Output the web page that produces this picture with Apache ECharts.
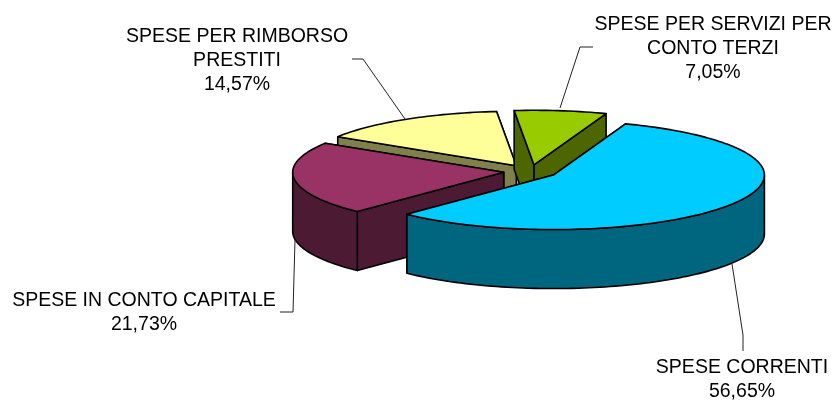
<!DOCTYPE html>
<html><head><meta charset="utf-8">
<style>html,body{margin:0;padding:0;background:#fff}#c{width:836px;height:400px}</style>
<script src="https://cdn.jsdelivr.net/npm/echarts@6/dist/echarts.min.js"></script>
</head><body><div id="c"></div>
<script>
const names = ['SPESE CORRENTI', 'SPESE IN CONTO CAPITALE', 'SPESE PER RIMBORSO\nPRESTITI', 'SPESE PER SERVIZI PER\nCONTO TERZI'];
const values = [56.65, 21.73, 14.57, 7.05];
const topColors = ['#00CCFF', '#993366', '#FFFF99', '#99CC00'];
const sideColors = ['#006680', '#4D1A33', '#80804D', '#4D6600'];
const drawOrder = [3, 2, 0, 1];
const labelPos = [[742, 380], [144, 313], [237, 61], [713, 49]];
const leaders = [
  [[743, 351], [743, 335], [732, 264]],
  [[280, 312], [293, 312], [295, 240]],
  [[352, 59], [363, 59], [405, 119]],
  [[593, 47], [580, 47], [560, 108]]
];
const CX = 530.5, CY = 171.5, RX = 211, RY = 54.5, DEPTH = 59, EXPLODE = 27, START = 20;
const total = values.reduce((a, b) => a + b, 0);
const rad = d => d * Math.PI / 180;
const dir = (deg, r) => [r * Math.sin(rad(deg)), -r * 0.25 * Math.cos(rad(deg))];
function span(i) {
  let s = START;
  for (let k = 0; k < i; k++) s += values[k] / total * 360;
  return [s, s + values[i] / total * 360];
}
function arc(apex, a, b, dy) {
  const pts = [], n = Math.max(2, Math.ceil((b - a) / 1.5));
  for (let k = 0; k <= n; k++) {
    const t = rad(a + (b - a) * k / n);
    pts.push([apex[0] + RX * Math.sin(t), apex[1] - RY * Math.cos(t) + dy]);
  }
  return pts;
}
function face(points, fill, z2) {
  return { type: 'polygon', z2, silent: true,
    shape: { points },
    style: { fill, stroke: '#000', lineWidth: 1.6, lineJoin: 'round' } };
}
function renderItem(params, api) {
  const i = params.dataIndex;
  const [a, b] = span(i);
  const off = dir((a + b) / 2, EXPLODE);
  const apex = [CX + off[0], CY + off[1]];
  const base = drawOrder[i] * 4;
  const kids = [];
  const sp = arc(apex, a, a, 0)[0], ep = arc(apex, b, b, 0)[0];
  const down = p => [p[0], p[1] + DEPTH];
  kids.push(face([apex, ep, down(ep), down(apex)], sideColors[i], base));
  kids.push(face([apex, sp, down(sp), down(apex)], sideColors[i], base + 1));
  const wa = Math.max(a, 90), wb = Math.min(b, 270);
  if (wb > wa) {
    const upper = arc(apex, wa, wb, 0), lower = arc(apex, wa, wb, DEPTH).reverse();
    kids.push(face(upper.concat(lower), sideColors[i], base + 2));
  }
  kids.push(face([apex].concat(arc(apex, a, b, 0)), topColors[i], base + 3));
  kids.push({ type: 'polyline', z2: 50, silent: true,
    shape: { points: leaders[i] },
    style: { fill: 'none', stroke: '#222', lineWidth: 1 } });
  kids.push({ type: 'text', z2: 60, silent: true,
    x: labelPos[i][0], y: labelPos[i][1],
    style: {
      text: names[i] + '\n' + api.value(0).toFixed(2).replace('.', ',') + '%',
      font: '19.5px "Liberation Sans", Arial, sans-serif',
      lineHeight: 24, fill: '#000', align: 'center', verticalAlign: 'middle'
    } });
  return { type: 'group', children: kids };
}
const chart = echarts.init(document.getElementById('c'), null, { renderer: 'canvas' });
chart.setOption({
  animation: false,
  backgroundColor: '#fff',
  series: [{
    type: 'custom', coordinateSystem: 'none', silent: true,
    renderItem,
    data: values.map((v, i) => ({ name: names[i], value: [v] }))
  }]
});
</script></body></html>
